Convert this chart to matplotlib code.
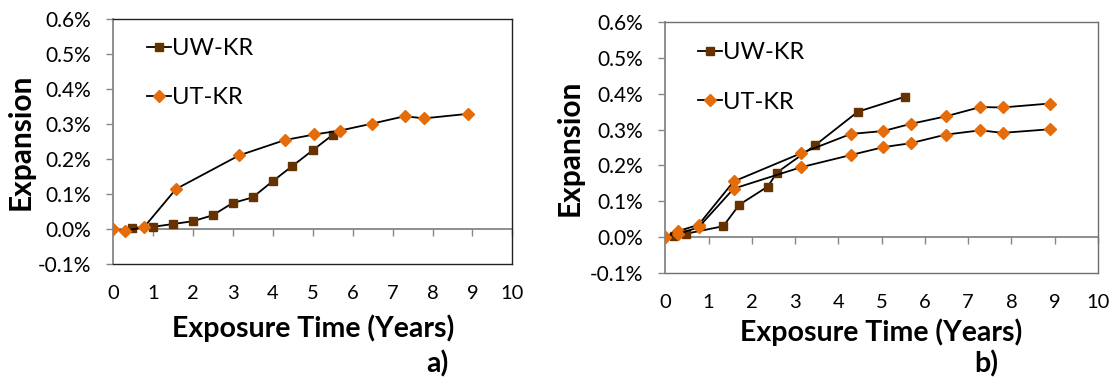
import matplotlib
matplotlib.use("Agg")
import matplotlib.pyplot as plt
from matplotlib.ticker import FuncFormatter, MultipleLocator

plt.rcParams['font.family'] = ['Lato', 'DejaVu Sans']

# ---- data (expansion in %) ----
a_uw_x = [0.48, 0.99, 1.49, 1.99, 2.49, 2.99, 3.49, 3.99, 4.49, 5.00, 5.50]
a_uw_y = [0.004, 0.007, 0.015, 0.023, 0.040, 0.075, 0.091, 0.137, 0.181, 0.226, 0.270]
a_ut_x = [0.0, 0.29, 0.77, 1.57, 3.15, 4.30, 5.04, 5.68, 6.49, 7.30, 7.79, 8.90]
a_ut_y = [0.0, -0.004, 0.006, 0.115, 0.211, 0.255, 0.271, 0.282, 0.302, 0.323, 0.317, 0.330]

b_uw_x = [0.19, 0.48, 1.34, 1.71, 2.37, 2.58, 3.46, 4.45, 5.54]
b_uw_y = [0.002, 0.009, 0.030, 0.090, 0.141, 0.180, 0.256, 0.350, 0.392]
b_ut1_x = [0.0, 0.29, 0.77, 1.58, 3.14, 4.29, 5.04, 5.67, 6.48, 7.28, 7.80, 8.89]
b_ut1_y = [0.0, 0.016, 0.034, 0.155, 0.234, 0.288, 0.296, 0.316, 0.337, 0.363, 0.362, 0.373]
b_ut2_x = [0.0, 0.29, 0.77, 1.58, 3.14, 4.29, 5.04, 5.67, 6.48, 7.28, 7.80, 8.89]
b_ut2_y = [0.0, 0.008, 0.027, 0.135, 0.195, 0.229, 0.251, 0.262, 0.286, 0.298, 0.291, 0.301]

x_label = "Exposure Time (Years)"
y_label = "Expansion"
legend_labels = ["UW-KR", "UT-KR"]
panel_labels = ["a)", "b)"]

BROWN = "#663300"
ORANGE = "#E46C0A"
GRAY = "#868686"

fig = plt.figure(figsize=(11.14, 3.82), dpi=100)
ax_a = fig.add_axes([0.1017, 0.3081, 0.3582, 0.6414])
ax_b = fig.add_axes([0.5972, 0.2861, 0.3884, 0.6555])

def style(ax, frame_color, left_color):
    ax.set_xlim(0, 10)
    ax.set_ylim(-0.1, 0.6)
    ax.xaxis.set_major_locator(MultipleLocator(1))
    ax.yaxis.set_major_locator(MultipleLocator(0.1))
    ax.yaxis.set_major_formatter(FuncFormatter(lambda v, p: f"{v:.1f}%"))
    for s in ("top", "right", "bottom"):
        ax.spines[s].set_color(frame_color)
        ax.spines[s].set_linewidth(1.0)
    ax.spines["left"].set_color(left_color)
    ax.spines["left"].set_linewidth(1.3)
    ax.tick_params(axis="x", length=0, pad=15, labelsize=14.5, colors="#000000")
    ax.tick_params(axis="y", length=5.3, width=1.0, color=GRAY, pad=10.5, labelsize=15)
    # zero line with its tick marks
    sec = ax.secondary_xaxis(1 / 7)
    sec.set_alignment("bottom")
    sec.xaxis.set_major_locator(MultipleLocator(1))
    sec.tick_params(axis="x", direction="out", length=5, width=1.0, color=GRAY,
                    labelbottom=False, labeltop=False)
    sec.spines["bottom"].set_color(GRAY)
    sec.spines["bottom"].set_linewidth(1.3)

style(ax_a, "#222222", GRAY)
style(ax_b, "#6f6f6f", GRAY)

lw = 1.3
ax_a.plot(a_uw_x, a_uw_y, color="black", lw=lw, marker="s", ms=5.6,
          mfc=BROWN, mec=BROWN, label=legend_labels[0], zorder=3)
ax_a.plot(a_ut_x, a_ut_y, color="black", lw=lw, marker="D", ms=5.8,
          mfc=ORANGE, mec=ORANGE, label=legend_labels[1], zorder=4)

ax_b.plot(b_uw_x, b_uw_y, color="black", lw=lw, marker="s", ms=5.6,
          mfc=BROWN, mec=BROWN, label=legend_labels[0], zorder=3)
ax_b.plot(b_ut1_x, b_ut1_y, color="black", lw=lw, marker="D", ms=5.8,
          mfc=ORANGE, mec=ORANGE, label=legend_labels[1], zorder=4)
ax_b.plot(b_ut2_x, b_ut2_y, color="black", lw=lw, marker="D", ms=5.8,
          mfc=ORANGE, mec=ORANGE, label="_nolegend_", zorder=4)

for ax, (lx, ly) in ((ax_a, (0.0845, 0.781)), (ax_b, (0.0767, 0.780))):
    ax.legend(loc="center left", bbox_to_anchor=(lx, ly), frameon=False,
              fontsize=17, handlelength=1.0, handletextpad=0.05,
              labelspacing=1.2, borderaxespad=0, borderpad=0)

ax_a.set_xlabel(x_label, fontsize=20.5, fontweight="bold", va="center")
ax_a.xaxis.set_label_coords(0.5, (264.3 - 328) / 245)
ax_b.set_xlabel(x_label, fontsize=20.5, fontweight="bold", va="center")
ax_b.xaxis.set_label_coords(0.5, (272.7 - 332) / 250.4)

ax_a.set_ylabel(y_label, fontsize=21.5, fontweight="bold", va="center")
ax_a.yaxis.set_label_coords(-0.231, 0.5)
ax_b.set_ylabel(y_label, fontsize=21.5, fontweight="bold", va="center")
ax_b.yaxis.set_label_coords(-0.220, 0.5)

fig.text(437 / 1114, 1 - 364 / 382, panel_labels[0], fontsize=20.5,
         fontweight="bold", ha="center", va="center")
fig.text(986 / 1114, 1 - 364 / 382, panel_labels[1], fontsize=20.5,
         fontweight="bold", ha="center", va="center")

fig.savefig("out.png", dpi=100, facecolor="white")
